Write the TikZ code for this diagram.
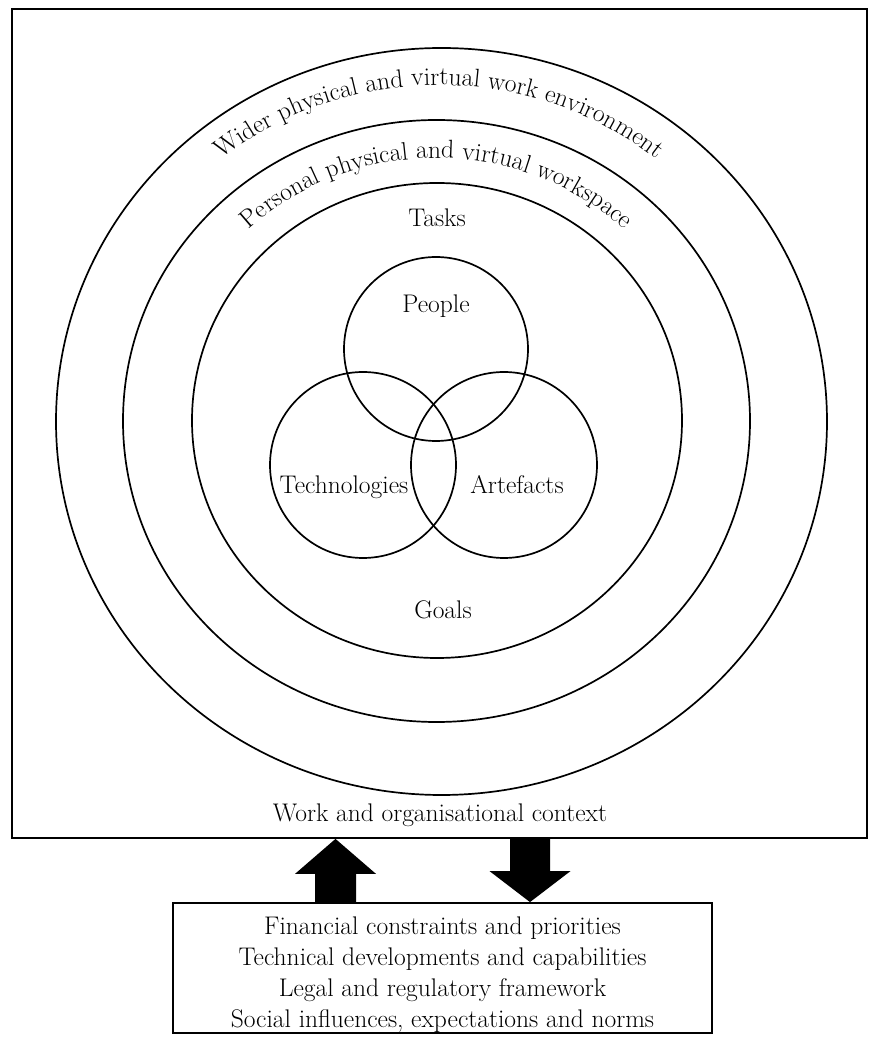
\documentclass[tikz,border=0pt]{standalone}
\usetikzlibrary{shapes.geometric,calc,decorations.text}
\newcommand\dfont{\fontsize{25.5}{31}\selectfont}
\tikzset{
  ring/.style={draw, ellipse, line width=1.7pt, inner sep=0pt},
  venn/.style={draw, circle, line width=1.7pt, inner sep=0pt, minimum size=184pt},
  lbl/.style={font=\dfont, inner sep=0pt, anchor=base},
  frame/.style={draw, line width=1.8pt, inner sep=0pt},
  blockarrow/.style={fill=black}
}
\begin{document}
\begin{tikzpicture}[x=1pt,y=1pt]
\useasboundingbox (0,0) rectangle (870,1037);
% outer context frame
\node[frame, minimum width=855pt, minimum height=829pt] (ctx) at (439.5,613.5) {};
% rings
\node[ring, minimum width=771pt, minimum height=747pt] (wider) at (441.5,615.5) {};
\node[ring, minimum width=627pt, minimum height=602pt] (personal) at (436.5,616) {};
\node[ring, minimum width=490pt, minimum height=475pt] (tasks) at (437,616.5) {};
% venn circles
\node[venn] (people) at (436,688) {};
\node[venn, minimum size=186pt] (tech) at (363,572) {};
\node[venn, minimum size=186pt] (arte) at (504,572) {};
% labels
\node[lbl] (taskslbl) at (437,810) {Tasks};
\node[lbl] (peoplelbl) at (436,724) {People};
\node[lbl] (techlbl) at (344,543) {Technologies};
\node[lbl] (artelbl) at (517,543) {Artefacts};
\node[lbl] (goalslbl) at (443,418) {Goals};
\node[lbl] (ctxlbl) at (440,215) {Work and organisational context};
% curved labels
\coordinate (wc) at (439,615.5);
\coordinate (pc) at (436.5,616);
\path[decorate, decoration={text along path, text align=center,
  text={|\dfont|Wider physical and virtual work environment}}]
  (wc) ++(-347pt,0) arc[start angle=180, end angle=0, x radius=347pt, y radius=336.5pt];
\path[decorate, decoration={text along path, text align=center,
  text={|\dfont|Personal physical and virtual workspace}}]
  (pc) ++(-274pt,0) arc[start angle=180, end angle=0, x radius=274pt, y radius=263pt];
% factors box
\node[frame, minimum width=539pt, minimum height=130pt] (factors) at (442.5,69) {};
\node[align=center, font=\dfont, inner sep=0pt] (factorstext) at (442.5,62)
  {Financial constraints and priorities\\Technical developments and capabilities\\Legal and regulatory framework\\Social influences, expectations and norms};
% block arrows
\coordinate (upx) at (335.5,0);
\coordinate (dnx) at (530,0);
\coordinate (uptip) at (upx |- ctx.south);
\coordinate (upfoot) at (upx |- factors.north);
\coordinate (dntip) at (dnx |- factors.north);
\coordinate (dntop) at (dnx |- ctx.south);
\fill[blockarrow] (uptip) -- ($(uptip)+(40.5,-35)$) -- ($(uptip)+(20.5,-35)$) -- ($(upfoot)+(20.5,0)$)
  -- ($(upfoot)+(-20.5,0)$) -- ($(uptip)+(-20.5,-35)$) -- ($(uptip)+(-40.5,-35)$) -- cycle;
\fill[blockarrow] (dntip) -- ($(dntip)+(40.5,31)$) -- ($(dntip)+(20,31)$) -- ($(dntop)+(20,0)$)
  -- ($(dntop)+(-20,0)$) -- ($(dntip)+(-20,31)$) -- ($(dntip)+(-40.5,31)$) -- cycle;
\end{tikzpicture}
\end{document}
